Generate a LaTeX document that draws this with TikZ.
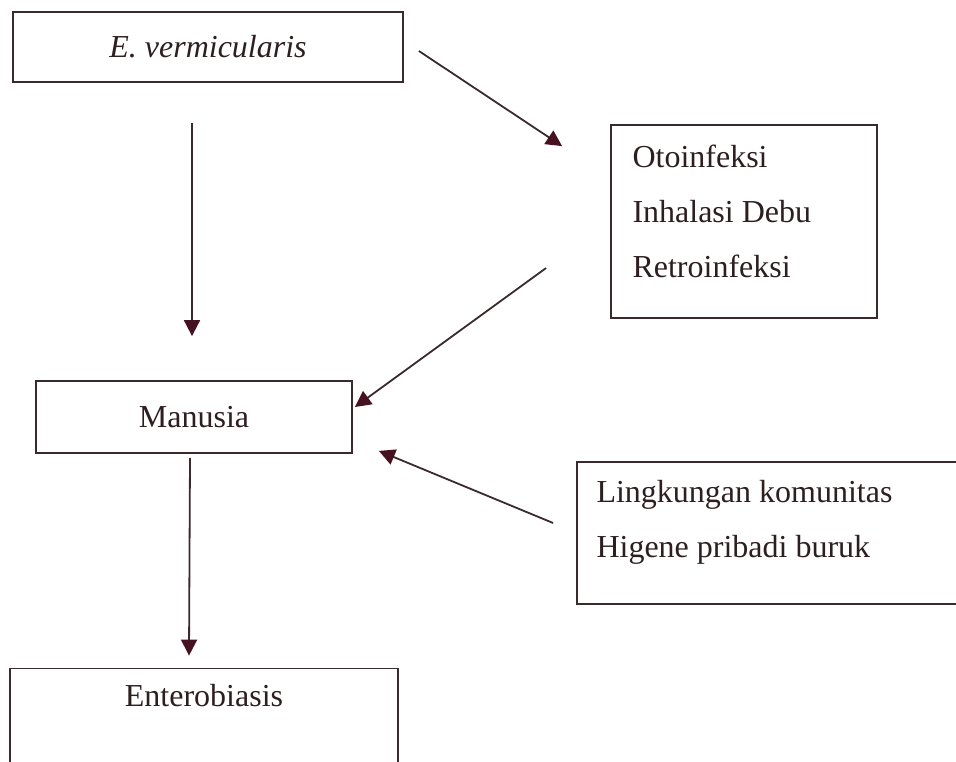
\documentclass[tikz,border=0pt]{standalone}
\usepackage{fontspec}
\setmainfont{Liberation Serif}
\usepackage{tikz}
\usetikzlibrary{arrows.meta, positioning, calc}

\definecolor{inkline}{RGB}{58,42,44}
\definecolor{inkhead}{RGB}{70,18,34}
\definecolor{inktext}{RGB}{45,30,32}

\begin{document}
\begin{tikzpicture}[
      x=0.5pt, y=-0.5pt,
      font=\fontsize{16}{27.5}\selectfont,
      box/.style={draw=inkline, line width=0.9pt, rectangle, inner sep=0pt, text=inktext},
      txt/.style={inner sep=0pt, align=left, text=inktext},
      flow/.style={draw=inkline, line width=0.9pt,
        -{Triangle[length=8pt, width=8pt, color=inkhead]}},
    ]
    \useasboundingbox (0,0) rectangle (956,761);
    % boxes
    \node[box, minimum width=195pt, minimum height=35pt] (evar) at (208,47) {\itshape E. vermicularis};
    \node[box, minimum width=133pt, minimum height=96.5pt] (oto) at (744,221.5) {};
    \node[box, minimum width=158pt, minimum height=36pt] (man) at (194,417) {Manusia};
    \node[box, minimum width=206.5pt, minimum height=71pt] (ling) at (783.5,533) {};
    \node[box, minimum width=194pt, minimum height=66pt] (ent) at (204,734.5) {};
    % texts inside the boxes
    \node[txt, anchor=north west] (ototxt) at ($(oto.north west)+(22,20)$)
      {Otoinfeksi\\Inhalasi Debu\\Retroinfeksi};
    \node[txt, anchor=north west] (lingtxt) at ($(ling.north west)+(20,19)$)
      {Lingkungan komunitas\\Higene pribadi buruk};
    \node[txt, anchor=base] (enttxt) at ($(ent.north)+(0,39)$) {Enterobiasis};
    % arrows
    \draw[flow] ($(evar.east)+(15,4)$) -- ($(oto.north west)+(-48,22)$);
    \draw[flow] ($(evar.south)+(-16,40)$) -- ($(man.north)+(-2,-44)$);
    \draw[flow] ($(oto.west)+(-64,46.5)$) -- ($(man.east)+(2,-10)$);
    \draw[flow] ($(ling.west)+(-23,-10)$) -- ($(man.south east)+(26,-3)$);
    \draw[flow] ($(man.south)+(-4,4)$) -- ($(ent.north)+(-15,-12)$);
\end{tikzpicture}
\end{document}
